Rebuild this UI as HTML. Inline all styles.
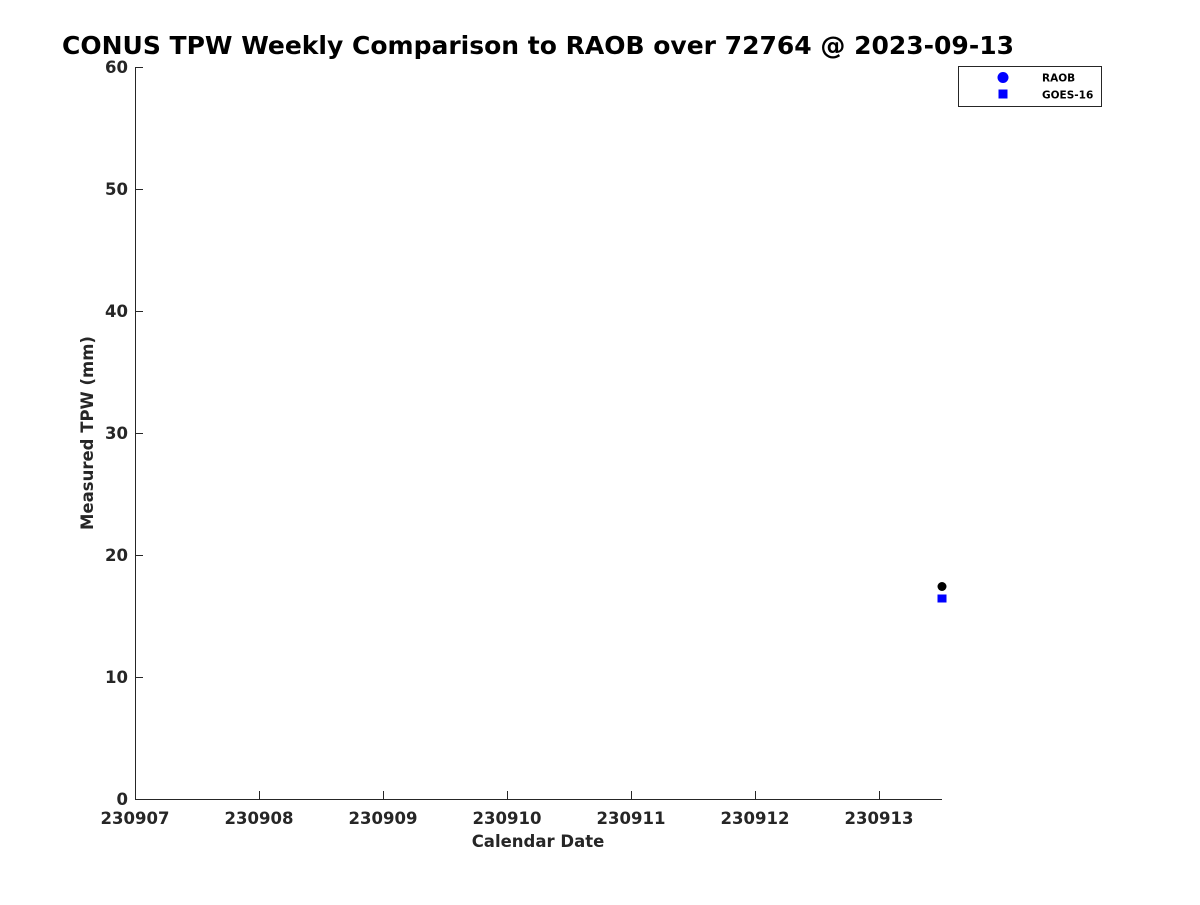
<!DOCTYPE html>
<html><head><style>body{margin:0;background:#fff}</style></head><body>
<svg width="1200" height="900" xmlns="http://www.w3.org/2000/svg" font-family="'DejaVu Sans','Liberation Sans',sans-serif" font-weight="bold">
<rect width="1200" height="900" fill="#fff"/>
<text x="538" y="54" text-anchor="middle" font-size="25" fill="#000">CONUS TPW Weekly Comparison to RAOB over 72764 @ 2023-09-13</text>
<g stroke="#262626" stroke-width="1">
<line x1="135.5" y1="67" x2="135.5" y2="800"/>
<line x1="135" y1="799.5" x2="942" y2="799.5"/>
<line x1="135" y1="67.5" x2="143" y2="67.5"/>
<line x1="135" y1="189.5" x2="143" y2="189.5"/>
<line x1="135" y1="311.5" x2="143" y2="311.5"/>
<line x1="135" y1="433.5" x2="143" y2="433.5"/>
<line x1="135" y1="555.5" x2="143" y2="555.5"/>
<line x1="135" y1="677.5" x2="143" y2="677.5"/>
<line x1="259.5" y1="799" x2="259.5" y2="791"/>
<line x1="383.5" y1="799" x2="383.5" y2="791"/>
<line x1="507.5" y1="799" x2="507.5" y2="791"/>
<line x1="631.5" y1="799" x2="631.5" y2="791"/>
<line x1="755.5" y1="799" x2="755.5" y2="791"/>
<line x1="879.5" y1="799" x2="879.5" y2="791"/>
</g>
<g font-size="16.5" fill="#262626" text-anchor="end">
<text x="128" y="73">60</text><text x="128" y="195">50</text><text x="128" y="317">40</text>
<text x="128" y="439">30</text><text x="128" y="561">20</text><text x="128" y="683">10</text><text x="128" y="805">0</text>
</g>
<g font-size="16.5" fill="#262626" text-anchor="middle">
<text x="135" y="824">230907</text><text x="259" y="824">230908</text><text x="383" y="824">230909</text>
<text x="507" y="824">230910</text><text x="631" y="824">230911</text><text x="755" y="824">230912</text><text x="879" y="824">230913</text>
</g>
<text x="538" y="847" text-anchor="middle" font-size="16.5" fill="#262626">Calendar Date</text>
<text transform="translate(93,433) rotate(-90)" text-anchor="middle" font-size="16.5" fill="#262626">Measured TPW (mm)</text>
<rect x="937.5" y="594.5" width="9" height="8" fill="#0000ff"/>
<circle cx="942" cy="586.5" r="4.5" fill="#000"/>
<rect x="958.5" y="66.5" width="143" height="40" fill="#fff" stroke="#262626"/>
<circle cx="1003" cy="77.5" r="5.5" fill="#0000ff"/>
<rect x="998.5" y="89.5" width="9" height="9" fill="#0000ff"/>
<text x="1042" y="81.5" font-size="10.5" fill="#000">RAOB</text>
<text x="1042" y="98.5" font-size="10.5" fill="#000">GOES-16</text>
</svg>
</body></html>
